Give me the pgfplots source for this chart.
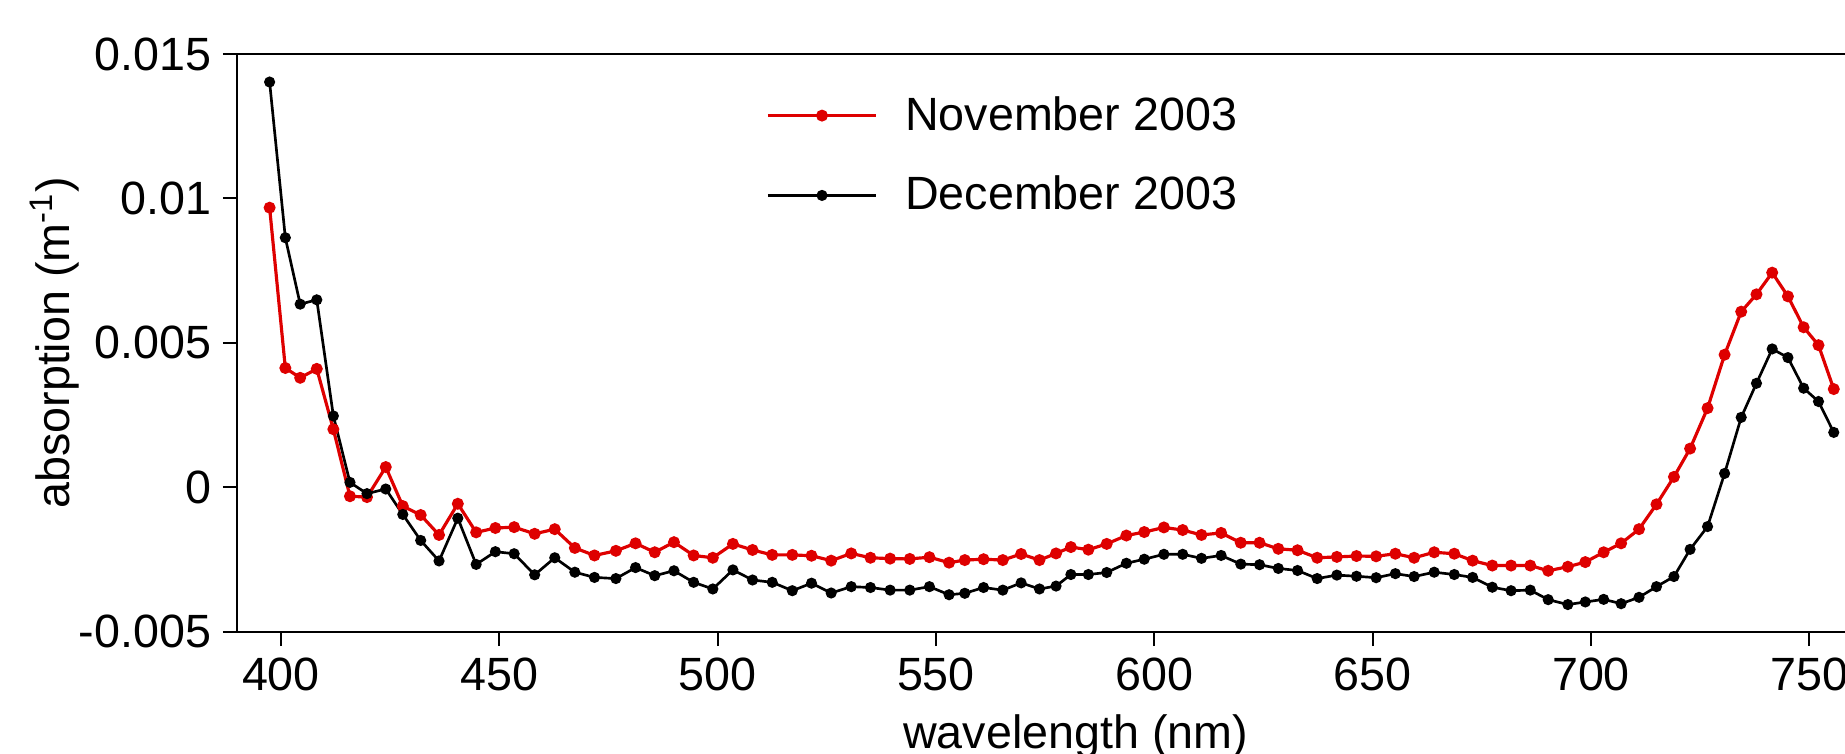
\documentclass[border=0pt]{standalone}
\usepackage{fontspec}
\setmainfont{Liberation Sans}
\usepackage{pgfplots}
\usepackage{pgfplotstable}
\pgfplotsset{compat=1.18}
\definecolor{novred}{RGB}{222,0,0}
\pgfplotstableread{
wl nov dec
397.4 0.00968 0.01403
401.0 0.00413 0.00864
404.4 0.00379 0.00634
408.2 0.00410 0.00649
412.0 0.00201 0.00247
415.8 -0.00031 0.00017
419.7 -0.00034 -0.00022
424.0 0.00070 -0.00006
427.9 -0.00065 -0.00094
432.0 -0.00096 -0.00184
436.2 -0.00165 -0.00255
440.5 -0.00057 -0.00107
444.7 -0.00156 -0.00267
449.1 -0.00141 -0.00223
453.4 -0.00138 -0.00230
458.1 -0.00161 -0.00303
462.7 -0.00145 -0.00244
467.3 -0.00210 -0.00294
471.8 -0.00236 -0.00312
476.7 -0.00220 -0.00316
481.2 -0.00194 -0.00278
485.6 -0.00225 -0.00306
490.0 -0.00190 -0.00289
494.5 -0.00236 -0.00329
498.9 -0.00244 -0.00352
503.5 -0.00196 -0.00286
508.0 -0.00217 -0.00321
512.5 -0.00234 -0.00329
517.1 -0.00234 -0.00358
521.5 -0.00237 -0.00332
526.0 -0.00254 -0.00366
530.6 -0.00229 -0.00344
535.0 -0.00244 -0.00347
539.5 -0.00247 -0.00356
544.0 -0.00248 -0.00356
548.5 -0.00242 -0.00344
553.0 -0.00261 -0.00372
556.6 -0.00252 -0.00367
560.9 -0.00249 -0.00347
565.3 -0.00252 -0.00356
569.5 -0.00231 -0.00331
573.7 -0.00252 -0.00352
577.5 -0.00229 -0.00342
580.9 -0.00207 -0.00302
584.9 -0.00216 -0.00302
589.1 -0.00196 -0.00295
593.6 -0.00167 -0.00263
597.7 -0.00155 -0.00249
602.2 -0.00139 -0.00232
606.5 -0.00148 -0.00232
610.8 -0.00165 -0.00246
615.3 -0.00158 -0.00236
619.8 -0.00192 -0.00266
624.1 -0.00192 -0.00268
628.4 -0.00213 -0.00281
632.8 -0.00218 -0.00288
637.3 -0.00244 -0.00316
641.8 -0.00241 -0.00304
646.3 -0.00238 -0.00308
650.8 -0.00239 -0.00313
655.2 -0.00230 -0.00299
659.5 -0.00244 -0.00309
664.1 -0.00225 -0.00294
668.7 -0.00230 -0.00302
672.9 -0.00254 -0.00312
677.4 -0.00271 -0.00346
681.7 -0.00271 -0.00358
686.1 -0.00271 -0.00356
690.2 -0.00289 -0.00389
694.7 -0.00275 -0.00406
698.7 -0.00259 -0.00397
702.9 -0.00225 -0.00388
706.9 -0.00194 -0.00403
711.0 -0.00145 -0.00381
715.0 -0.00059 -0.00344
719.0 0.00036 -0.00309
722.7 0.00134 -0.00215
726.7 0.00274 -0.00136
730.6 0.00459 0.00048
734.4 0.00608 0.00242
737.9 0.00668 0.00360
741.5 0.00743 0.00479
745.1 0.00661 0.00449
748.7 0.00554 0.00343
752.1 0.00492 0.00297
755.6 0.00340 0.00190
}\datatable
\newcommand{\chartfont}{\fontsize{14}{17}\selectfont}
\begin{document}
\begin{tikzpicture}
\begin{axis}[
  scale only axis,
  width=503.04pt, height=173.31pt,
  xmin=390, xmax=774, ymin=-0.005, ymax=0.015,
  xtick={400,450,...,750},
  ytick={-0.005,0,0.005,0.01,0.015},
  yticklabels={-0.005,0,0.005,0.01,0.015},
  scaled y ticks=false,
  /pgf/number format/assume math mode=true,
  tick pos=left, tick align=outside,
  major tick length=4.35pt,
  axis line style={line width=0.6pt},
  every tick/.append style={line width=0.6pt, black},
  tick label style={font=\chartfont},
  label style={font=\chartfont},
  xlabel={wavelength (nm)},
  ylabel={absorption (m\textsuperscript{-1})},
  xlabel style={at={(axis description cs:0.5,-0.203)}, anchor=base},
  ylabel style={at={(axis description cs:-0.0998,0.5)}, anchor=base, rotate=0},
  legend style={draw=none, fill=none, font=\chartfont,
    at={(rel axis cs:0.3091,0.8243)}, anchor=west, row sep=8.3pt, column sep=6.2pt},
  legend cell align=left,
  legend image code/.code={\draw[mark repeat=2,mark phase=2,#1] plot coordinates {(0pt,0pt) (16.25pt,0pt) (32.5pt,0pt)};},
]
\coordinate (O) at (rel axis cs:0,0);
\addplot[novred, line width=0.95pt, mark=*, mark size=1.3pt, mark options={solid, fill=novred, draw=novred}] table[x=wl,y=nov]{\datatable};
\addlegendentry{November 2003}
\addplot[black, line width=0.8pt, mark=*, mark size=1.25pt, mark options={solid, fill=black}] table[x=wl,y=dec]{\datatable};
\addlegendentry{December 2003}
\end{axis}
\pgfresetboundingbox
\useasboundingbox ([shift={(-71.19pt,-36.39pt)}]O) rectangle ([shift={(482.31pt,189.51pt)}]O);
\end{tikzpicture}
\end{document}
